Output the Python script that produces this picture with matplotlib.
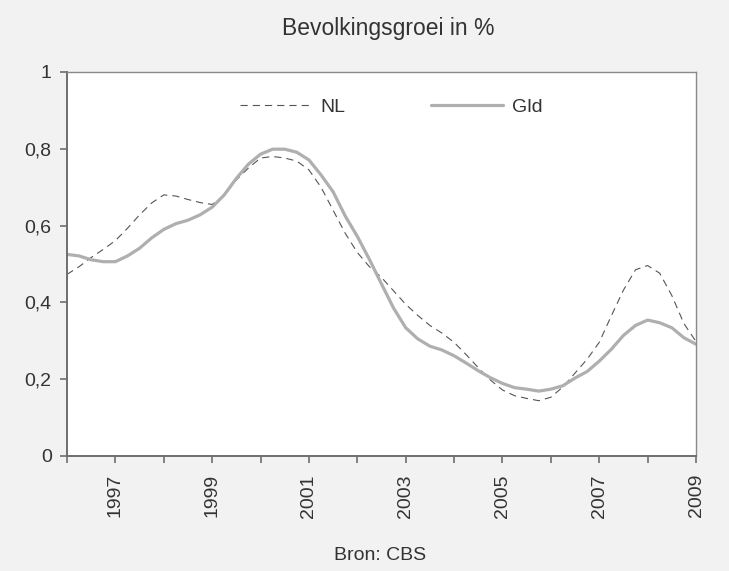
import numpy as np
import matplotlib
matplotlib.use("Agg")
import matplotlib.pyplot as plt
from matplotlib.ticker import FixedLocator, FuncFormatter

plt.rcParams['font.family'] = ['Liberation Sans', 'DejaVu Sans']

# Quarterly values, 1996.00 .. 2009.00
years = [1996 + 0.25 * i for i in range(53)]
gld = [0.525, 0.521, 0.511, 0.506, 0.506, 0.521, 0.541, 0.568, 0.590, 0.605,
       0.614, 0.628, 0.648, 0.680, 0.723, 0.760, 0.786, 0.799, 0.799, 0.791,
       0.771, 0.732, 0.688, 0.625, 0.572, 0.512, 0.448, 0.385, 0.334, 0.305,
       0.286, 0.276, 0.261, 0.242, 0.222, 0.204, 0.189, 0.178, 0.174, 0.169,
       0.174, 0.183, 0.203, 0.220, 0.247, 0.278, 0.314, 0.340, 0.354, 0.347,
       0.334, 0.308, 0.291]
nl = [0.473, 0.493, 0.517, 0.538, 0.561, 0.593, 0.628, 0.659, 0.680, 0.677,
      0.668, 0.660, 0.655, 0.678, 0.719, 0.750, 0.776, 0.780, 0.776, 0.768,
      0.745, 0.700, 0.640, 0.580, 0.530, 0.493, 0.465, 0.430, 0.395, 0.366,
      0.340, 0.320, 0.296, 0.264, 0.230, 0.198, 0.172, 0.157, 0.150, 0.144,
      0.153, 0.180, 0.216, 0.252, 0.296, 0.365, 0.432, 0.485, 0.496, 0.476,
      0.418, 0.345, 0.298]
major_years = [1997, 1999, 2001, 2003, 2005, 2007, 2009]
minor_years = [1996, 1998, 2000, 2002, 2004, 2006, 2008]
y_ticks = [0, 0.2, 0.4, 0.6, 0.8, 1.0]

fig = plt.figure(figsize=(7.29, 5.71), dpi=100, facecolor='#F2F2F2')
ax = fig.add_axes([67 / 729, 1 - 456 / 571, (696 - 67) / 729, (456 - 72) / 571])
ax.set_facecolor('white')

ax.plot(years, nl, color='#555555', lw=0.8, linestyle=(0, (6.5, 4.5)), label='NL')
ax.plot(years, gld, color='#AFAFAF', lw=2.3, solid_capstyle='round', label='Gld')

ax.set_xlim(1996, 2009)
ax.set_ylim(0, 1)
ax.xaxis.set_major_locator(FixedLocator(major_years))
ax.xaxis.set_minor_locator(FixedLocator(minor_years))
ax.set_xticklabels([str(y) for y in major_years], rotation=90)
ax.yaxis.set_major_locator(FixedLocator(y_ticks))
ax.yaxis.set_major_formatter(FuncFormatter(lambda v, p: ('%g' % v).replace('.', ',')))

for s in ['left', 'bottom']:
    ax.spines[s].set_color('#6E6E6E')
    ax.spines[s].set_linewidth(1.4)
for s in ['top', 'right']:
    ax.spines[s].set_color('#8A8A8A')
    ax.spines[s].set_linewidth(1.0)

ax.tick_params(axis='both', which='both', direction='out', length=5, width=1.2,
               color='#6E6E6E', labelcolor='#333333', labelsize=14)
ax.tick_params(axis='x', which='major', pad=8)
ax.tick_params(axis='y', pad=6)

leg = ax.legend(loc='center', bbox_to_anchor=(0.515, 0.909), ncol=2, frameon=False,
                fontsize=14, handlelength=3.7, handletextpad=0.45,
                columnspacing=4.4, labelcolor='#333333')

fig.text(388 / 729, 1 - 29 / 571, 'Bevolkingsgroei in %', ha='center', va='center',
         fontsize=16.5, color='#333333')
fig.text(380 / 729, 1 - 555 / 571, 'Bron: CBS', ha='center', va='center',
         fontsize=14, color='#333333')

fig.savefig('out.png', dpi=100, facecolor=fig.get_facecolor())
